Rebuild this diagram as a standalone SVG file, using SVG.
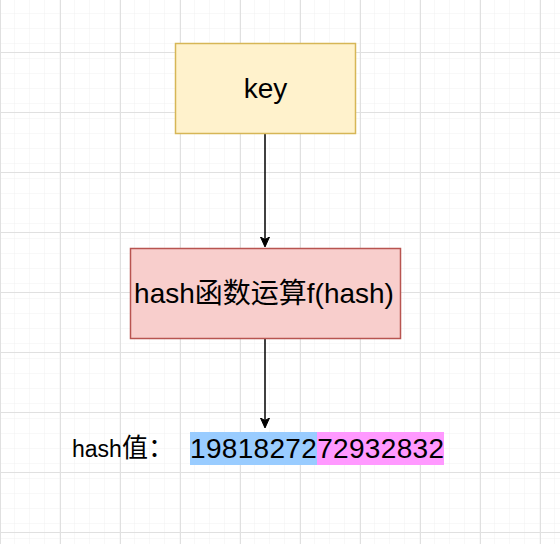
<svg xmlns="http://www.w3.org/2000/svg" width="560" height="544" viewBox="0 0 560 544">
  <style>
    .t { font-family: "Liberation Sans", "Noto Sans CJK SC", sans-serif; fill: #000000; }
    .edge { stroke: #000000; stroke-width: 1.5; fill: none; }
  </style>
  <defs>
    <pattern id="minor" x="0" y="7" width="15" height="15" patternUnits="userSpaceOnUse">
      <path d="M15 0 V15 M0 15 H15" stroke="#f0f0f0" stroke-width="1" fill="none"/>
    </pattern>
    <pattern id="major" x="0" y="52" width="60" height="60" patternUnits="userSpaceOnUse">
      <rect width="60" height="60" fill="url(#minor)"/>
      <path d="M0.5 0 V60 M0 0.5 H60" stroke="#e0e0e0" stroke-width="1" fill="none"/>
    </pattern>
    <marker id="arrow" viewBox="0 0 10 10" refX="9" refY="5" markerWidth="10" markerHeight="10" markerUnits="userSpaceOnUse" orient="auto">
      <path d="M0 0.5 L10 5 L0 9.5 L2.5 5 Z" fill="#000000" stroke="#000000" stroke-width="1"/>
    </marker>
  </defs>
  <rect width="560" height="544" fill="#ffffff"/>
  <rect width="560" height="544" fill="url(#major)"/>

  <g id="connectors">
    <line class="edge" x1="265" y1="133" x2="265" y2="246" marker-end="url(#arrow)"/>
    <line class="edge" x1="265" y1="338" x2="265" y2="427" marker-end="url(#arrow)"/>
  </g>

  <g id="key">
    <rect x="175.5" y="43.5" width="180" height="90" fill="#fff2cc" stroke="#d6b656" stroke-width="1.5"/>
    <text class="t" x="265.5" y="98" font-size="28" text-anchor="middle">key</text>
  </g>

  <g id="hashfn">
    <rect x="130.5" y="248.5" width="270" height="90" fill="#f8cecc" stroke="#b85450" stroke-width="1.5"/>
    <text class="t" x="264" y="303" font-size="28" text-anchor="middle">hash函数运算f(hash)</text>
  </g>

  <g id="hashvalue">
    <text class="t" x="72" y="457" font-size="23">hash<tspan font-size="26">值：</tspan></text>
    <rect x="190" y="432" width="127" height="33" fill="#99ccff"/>
    <rect x="317" y="432" width="127" height="33" fill="#ff99ff"/>
    <text class="t" x="190" y="458" font-size="28" textLength="254" lengthAdjust="spacing">1981827272932832</text>
  </g>
</svg>
